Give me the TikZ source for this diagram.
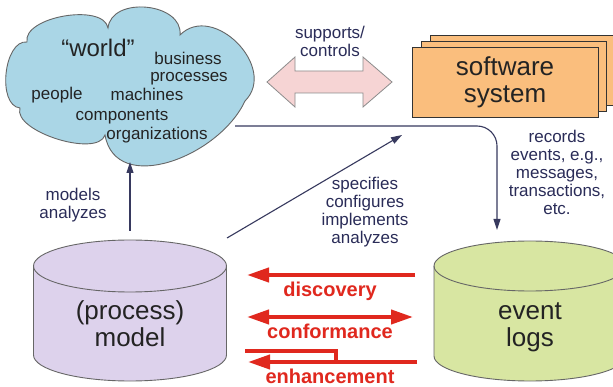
\documentclass[tikz,border=0pt]{standalone}
\usepackage{fontspec}
\setmainfont{Liberation Sans}
\usetikzlibrary{arrows.meta}
\definecolor{cloudfill}{RGB}{170,214,230}
\definecolor{swfill}{RGB}{250,190,125}
\definecolor{modelfill}{RGB}{221,210,236}
\definecolor{logfill}{RGB}{216,230,162}
\definecolor{pinkfill}{RGB}{246,212,212}
\definecolor{redline}{RGB}{224,40,30}
\definecolor{navy}{RGB}{42,44,88}
\definecolor{darktext}{RGB}{35,35,35}
\begin{document}
\begin{tikzpicture}[x=1pt,y=-1pt,
  cloudtext/.style={font=\fontsize{17}{18}\selectfont, text=darktext, anchor=base, inner sep=0pt},
  bigtext/.style={font=\fontsize{26}{27}\selectfont, text=darktext, align=center, inner sep=0pt},
  lbl/.style={font=\fontsize{17}{18}\selectfont, text=navy, align=center, inner sep=0pt},
  redlabel/.style={font=\fontsize{20}{21}\selectfont\bfseries, text=redline, anchor=base, inner sep=0pt},
  conn/.style={draw=navy!85!gray, line width=1.1pt, -{Triangle[length=11pt,width=7pt]}},
  redarrow/.style={draw=redline, line width=4pt, -{Triangle[length=22pt,width=14pt]}},
  redline2/.style={draw=redline, line width=4pt, line join=miter},
  outl/.style={draw=black!60, line width=0.9pt},
  outlb/.style={draw=black!80, line width=0.9pt},
]
\clip (0,0) rectangle (613,387);
\fill[white] (0,0) rectangle (613,387);

% cloud
\draw[outl, fill=cloudfill] (27,42)
  to[out=100,in=100,looseness=0.8] (108,28)
  to[out=84,in=84,looseness=1.15] (180,35)
  to[out=45,in=45,looseness=1.3] (245,101)
  to[out=-115,in=-80,looseness=1.1] (105,135)
  to[out=-108,in=-108,looseness=0.7] (20,108)
  to[out=174,in=174,looseness=0.9] (27,42) -- cycle;
\node[cloudtext, font=\fontsize{24}{24}\selectfont] (world) at (98,57) {“world”};
\node[cloudtext] (business) at (188,65) {business};
\node[cloudtext] (processes) at (189,82) {processes};
\node[cloudtext] (people) at (57,100) {people};
\node[cloudtext] (machines) at (147,101) {machines};
\node[cloudtext] (components) at (122,121) {components};
\node[cloudtext] (organizations) at (157,140) {organizations};

% double arrow supports/controls
\draw[draw=black!45, fill=pinkfill, line width=0.8pt] (267,82) -- (295,57) -- (295,71) -- (363,71) -- (363,57) -- (392,82) -- (363,107) -- (363,93) -- (295,93) -- (295,107) -- cycle;
\node[lbl] (supports) at (330,41) {supports/\\controls};

% software system
\draw[outlb, fill=swfill] (430,35) rectangle (614,105);
\draw[outlb, fill=swfill] (421,41) rectangle (606,111);
\draw[outlb, fill=swfill] (412,47) rectangle (598,117);
\node[bigtext] (sw) at (505,82) {software\\system};

% process model cylinder
\draw[outl, fill=modelfill] (33.5,266) -- (33.5,355)
  arc[start angle=180, end angle=0, x radius=96.5, y radius=26] -- (226.5,266)
  arc[start angle=0, end angle=-180, x radius=96.5, y radius=26] -- cycle;
\draw[outl] (33.5,266) arc[start angle=180, end angle=0, x radius=96.5, y radius=26];
\node[bigtext] (model) at (130,324) {(process)\\model};

% event logs cylinder
\draw[outl, fill=logfill] (434,266) -- (434,356)
  arc[start angle=180, end angle=0, x radius=96, y radius=25] -- (626,266)
  arc[start angle=0, end angle=-180, x radius=96, y radius=25] -- cycle;
\draw[outl] (434,266) arc[start angle=180, end angle=0, x radius=96, y radius=25];
\node[bigtext] (logs) at (530,327) {event\\logs};

% connector coordinates
\coordinate (modeltop) at (130,231);
\coordinate (cloudbottom) at (130,162);
\coordinate (modelcorner) at (227,238);
\coordinate (swtarget) at (402,135);
\coordinate (cloudright) at (235,126);
\coordinate (logtop) at (497,230);

\draw[conn] (modeltop) -- (cloudbottom);
\draw[conn] (modelcorner) -- (swtarget);
\draw[conn, rounded corners=20pt] (cloudright) -| (logtop);

% labels
\node[lbl] (models) at (73,205) {models\\analyzes};
\node[lbl] (specifies) at (365,212.6) {specifies\\configures\\implements\\analyzes};
\node[lbl] (records) at (557,172) {records\\events, e.g.,\\messages,\\transactions,\\etc.};

% red arrows
\coordinate (dstart) at (415,275);
\coordinate (dend) at (247,275);
\coordinate (cleft) at (247,317);
\coordinate (cright) at (413,317);
\coordinate (estart) at (417,362);
\coordinate (eend) at (248,362);
\coordinate (eupleft) at (245,351);
\coordinate (ejoin) at (336,351);
\coordinate (ejoinlow) at (336,362);

\draw[redarrow] (dstart) -- (dend);
\draw[redarrow, {Triangle[length=22pt,width=14pt]}-{Triangle[length=22pt,width=14pt]}] (cleft) -- (cright);
\draw[redline2] (eupleft) -- (ejoin) -- (ejoinlow);
\draw[redarrow] (estart) -- (eend);

\node[redlabel] (discovery) at (330,297) {discovery};
\node[redlabel] (conformance) at (330,338) {conformance};
\node[redlabel] (enhancement) at (330,383) {enhancement};
\end{tikzpicture}
\end{document}
